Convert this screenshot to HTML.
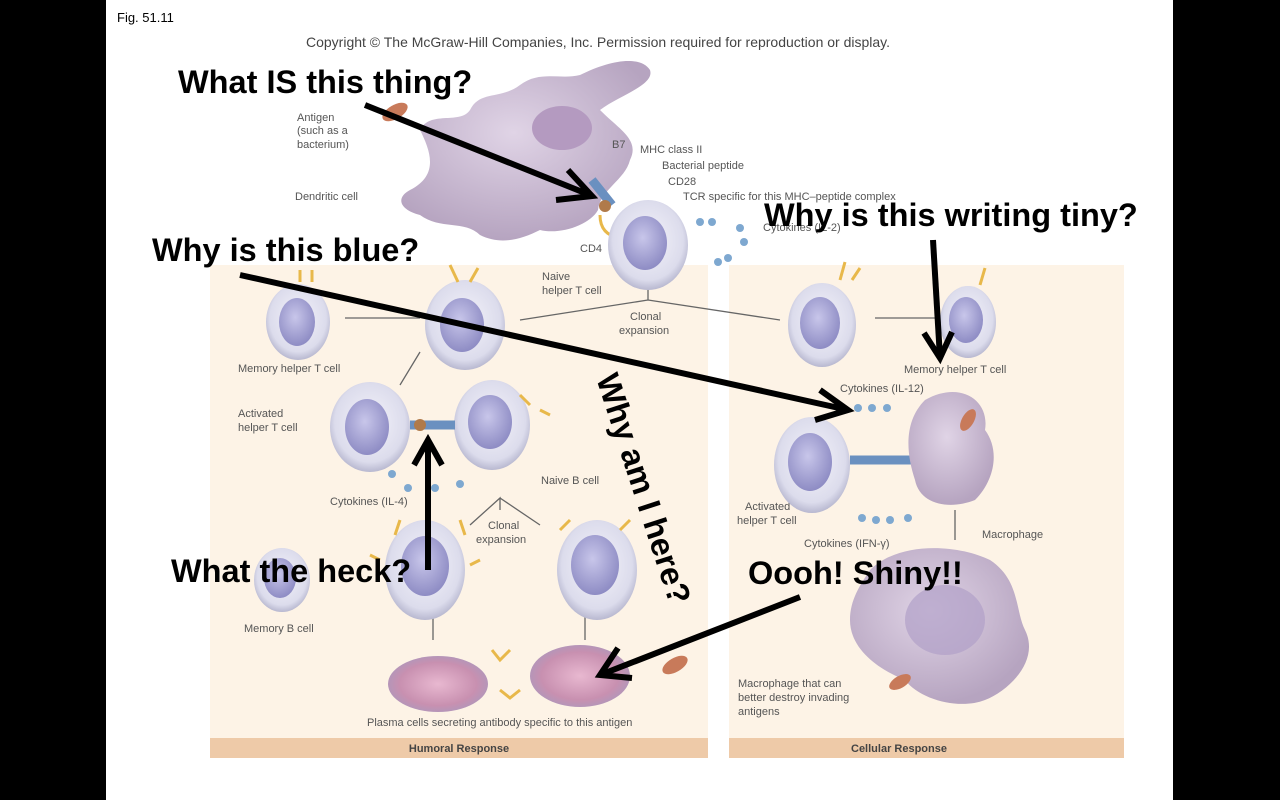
<!DOCTYPE html>
<html><head><style>
html,body{margin:0;padding:0;width:1280px;height:800px;overflow:hidden;background:#000}
svg{display:block}
.s{font-family:"Liberation Sans",sans-serif;font-size:11px;fill:#555}
.b{font-family:"Liberation Sans",sans-serif;font-weight:bold;font-size:32.5px;fill:#000}
</style></head><body>
<svg width="1280" height="800" viewBox="0 0 1280 800">
<defs>
<radialGradient id="cell" cx="50%" cy="45%" r="55%">
<stop offset="0" stop-color="#f4f3fa"/><stop offset="0.8" stop-color="#dcdcec"/><stop offset="1" stop-color="#b8b8d0"/></radialGradient>
<radialGradient id="nuc" cx="45%" cy="40%" r="60%">
<stop offset="0" stop-color="#c8c6ea"/><stop offset="1" stop-color="#8e8cc4"/></radialGradient>
<radialGradient id="mac" cx="45%" cy="40%" r="60%">
<stop offset="0" stop-color="#e0d4e6"/><stop offset="1" stop-color="#b6a4c0"/></radialGradient>
<radialGradient id="pla" cx="50%" cy="50%" r="55%">
<stop offset="0" stop-color="#e8b8d0"/><stop offset="0.7" stop-color="#c890b0"/><stop offset="1" stop-color="#ad98bc"/></radialGradient>
</defs>
<rect x="106" y="0" width="1067" height="800" fill="#fff"/>
<text x="117" y="22" font-family="Liberation Sans,sans-serif" font-size="13" fill="#000">Fig. 51.11</text>
<text x="306" y="47" font-family="Liberation Sans,sans-serif" font-size="14" fill="#444">Copyright © The McGraw-Hill Companies, Inc. Permission required for reproduction or display.</text>
<rect x="210" y="265" width="498" height="493" fill="#fdf3e6"/>
<rect x="210" y="738" width="498" height="20" fill="#eecaa8"/>
<text x="459" y="752" text-anchor="middle" class="s" style="font-weight:bold;fill:#444">Humoral Response</text>
<rect x="729" y="265" width="395" height="493" fill="#fdf3e6"/>
<rect x="729" y="738" width="395" height="20" fill="#eecaa8"/>
<text x="899" y="752" text-anchor="middle" class="s" style="font-weight:bold;fill:#444">Cellular Response</text>
<path d="M410 190 C440 175 430 150 420 130 C430 110 460 125 470 110 C480 90 500 100 520 85 C540 70 560 80 580 75 C610 60 640 55 650 70 C655 85 620 95 600 110 C620 130 640 140 630 160 C625 180 600 190 598 210 C590 225 560 235 540 230 C520 240 500 245 480 235 C465 220 440 230 420 215 C400 210 395 198 410 190Z" fill="url(#mac)"/>
<ellipse cx="562" cy="128" rx="30" ry="22" fill="#b49ac0"/>
<path d="M592 180 L612 205" stroke="#6a90c0" stroke-width="9"/>
<circle cx="605" cy="206" r="6" fill="#b07a4a"/>
<path d="M600 215 Q600 235 620 238" stroke="#e8b84a" stroke-width="3" fill="none"/>
<ellipse cx="395" cy="112" rx="14" ry="7" fill="#c87a5a" transform="rotate(-30 395 112)"/>
<g class="s">
<text x="297" y="121">Antigen</text><text x="297" y="134">(such as a</text><text x="297" y="148">bacterium)</text>
<text x="295" y="200">Dendritic cell</text>
<text x="612" y="148">B7</text><text x="640" y="153">MHC class II</text>
<text x="662" y="169">Bacterial peptide</text><text x="668" y="185">CD28</text>
<text x="683" y="200">TCR specific for this MHC–peptide complex</text>
<text x="763" y="231">Cytokines (IL-2)</text>
<text x="580" y="252">CD4</text>
<text x="542" y="280">Naive</text><text x="542" y="294">helper T cell</text>
<text x="630" y="320">Clonal</text><text x="619" y="334">expansion</text>
<text x="238" y="372">Memory helper T cell</text>
<text x="238" y="417">Activated</text><text x="238" y="431">helper T cell</text>
<text x="330" y="505">Cytokines (IL-4)</text>
<text x="541" y="484">Naive B cell</text>
<text x="488" y="529">Clonal</text><text x="476" y="543">expansion</text>
<text x="244" y="632">Memory B cell</text>
<text x="367" y="726">Plasma cells secreting antibody specific to this antigen</text>
<text x="904" y="373">Memory helper T cell</text>
<text x="840" y="392">Cytokines (IL-12)</text>
<text x="745" y="510">Activated</text><text x="737" y="524">helper T cell</text>
<text x="804" y="547">Cytokines (IFN-γ)</text>
<text x="982" y="538">Macrophage</text>
<text x="738" y="687">Macrophage that can</text><text x="738" y="701">better destroy invading</text><text x="738" y="715">antigens</text>
</g>
<g stroke="#666" stroke-width="1.3" fill="none">
<path d="M648 300 V290 M520 320 L648 300 L780 320 M345 318 H420 M420 352 L400 385 M500 510 L500 498 L470 525 M500 498 L540 525 M433 605 V640 M585 605 V640 M875 318 H935 M955 510 V540"/>
</g>
<g>
<ellipse cx="648" cy="245" rx="40" ry="45" fill="url(#cell)"/><ellipse cx="645" cy="243" rx="22" ry="27" fill="url(#nuc)"/>
<ellipse cx="298" cy="322" rx="32" ry="38" fill="url(#cell)"/><ellipse cx="297" cy="322" rx="18" ry="24" fill="url(#nuc)"/>
<ellipse cx="465" cy="325" rx="40" ry="45" fill="url(#cell)"/><ellipse cx="462" cy="325" rx="22" ry="27" fill="url(#nuc)"/>
<ellipse cx="370" cy="427" rx="40" ry="45" fill="url(#cell)"/><ellipse cx="367" cy="427" rx="22" ry="28" fill="url(#nuc)"/>
<ellipse cx="492" cy="425" rx="38" ry="45" fill="url(#cell)"/><ellipse cx="490" cy="422" rx="22" ry="27" fill="url(#nuc)"/>
<path d="M410 425 H455" stroke="#6a90c0" stroke-width="9"/><circle cx="420" cy="425" r="6" fill="#b07a4a"/>
<ellipse cx="282" cy="580" rx="28" ry="32" fill="url(#cell)"/><ellipse cx="280" cy="578" rx="16" ry="20" fill="url(#nuc)"/>
<ellipse cx="425" cy="570" rx="40" ry="50" fill="url(#cell)"/><ellipse cx="425" cy="566" rx="24" ry="30" fill="url(#nuc)"/>
<ellipse cx="597" cy="570" rx="40" ry="50" fill="url(#cell)"/><ellipse cx="595" cy="565" rx="24" ry="30" fill="url(#nuc)"/>
<ellipse cx="438" cy="684" rx="50" ry="28" fill="url(#pla)"/>
<ellipse cx="580" cy="676" rx="50" ry="31" fill="url(#pla)"/>
<ellipse cx="822" cy="325" rx="34" ry="42" fill="url(#cell)"/><ellipse cx="820" cy="323" rx="20" ry="26" fill="url(#nuc)"/>
<ellipse cx="968" cy="322" rx="28" ry="36" fill="url(#cell)"/><ellipse cx="966" cy="320" rx="17" ry="23" fill="url(#nuc)"/>
<ellipse cx="812" cy="465" rx="38" ry="48" fill="url(#cell)"/><ellipse cx="810" cy="462" rx="22" ry="29" fill="url(#nuc)"/>
<path d="M850 460 H915" stroke="#6a90c0" stroke-width="9"/>
<path d="M925 400 C960 380 990 400 985 430 C1000 450 995 480 975 500 C950 510 920 505 915 480 C905 450 905 420 925 400Z" fill="url(#mac)"/>
<path d="M870 570 C900 540 960 545 990 560 C1020 580 1015 610 1025 630 C1040 660 1010 690 985 700 C960 710 920 700 905 680 C880 670 850 650 850 620 C850 600 860 585 870 570Z" fill="url(#mac)"/>
<ellipse cx="945" cy="620" rx="40" ry="35" fill="#b0a0c8" opacity=".7"/>
<ellipse cx="900" cy="682" rx="12" ry="6" fill="#c87a5a" transform="rotate(-30 900 682)"/>
<ellipse cx="675" cy="665" rx="14" ry="7" fill="#c87a5a" transform="rotate(-30 675 665)"/>
<ellipse cx="968" cy="420" rx="6" ry="12" fill="#c87a5a" transform="rotate(30 968 420)"/>
</g>
<g fill="#7ea8d0">
<circle cx="700" cy="222" r="4"/><circle cx="712" cy="222" r="4"/><circle cx="740" cy="228" r="4"/><circle cx="744" cy="242" r="4"/><circle cx="718" cy="262" r="4"/><circle cx="728" cy="258" r="4"/>
<circle cx="392" cy="474" r="4"/><circle cx="408" cy="488" r="4"/><circle cx="435" cy="488" r="4"/><circle cx="460" cy="484" r="4"/>
<circle cx="858" cy="408" r="4"/><circle cx="872" cy="408" r="4"/><circle cx="887" cy="408" r="4"/>
<circle cx="862" cy="518" r="4"/><circle cx="876" cy="520" r="4"/><circle cx="890" cy="520" r="4"/><circle cx="908" cy="518" r="4"/>
</g>
<g stroke="#e8b84a" stroke-width="3" fill="none">
<path d="M300 282 V270 M312 282 V270 M458 282 L450 265 M470 282 L478 268 M840 280 L845 262 M852 280 L860 268 M980 285 L985 268 M492 650 L500 660 L510 650 M520 690 L510 698 L500 690 M520 395 L530 405 M540 410 L550 415 M400 520 L395 535 M460 520 L465 535 M560 530 L570 520 M620 530 L630 520 M380 560 L370 555 M470 565 L480 560"/>
</g>
<g stroke="#000" stroke-width="6" fill="none" stroke-linecap="butt">
<path d="M365 105 L590 195"/><path d="M568 170 L592 196 L556 200"/>
<path d="M240 275 L848 410"/><path d="M820 390 L848 410 L815 420"/>
<path d="M933 240 L940 358"/><path d="M924 333 L940 358 L952 332"/>
<path d="M428 570 L428 440"/><path d="M414 465 L428 440 L442 465"/>
<path d="M800 597 L600 675"/><path d="M618 648 L600 675 L632 678"/>
</g>
<text x="178" y="93" class="b">What IS this thing?</text>
<text x="152" y="261" class="b">Why is this blue?</text>
<text x="764" y="226" class="b">Why is this writing tiny?</text>
<text x="171" y="582" class="b">What the heck?</text>
<text x="748" y="584" class="b">Oooh!  Shiny!!</text>
<text x="0" y="0" class="b" transform="translate(596,378) rotate(72)">Why am I here?</text>
</svg>
</body></html>
